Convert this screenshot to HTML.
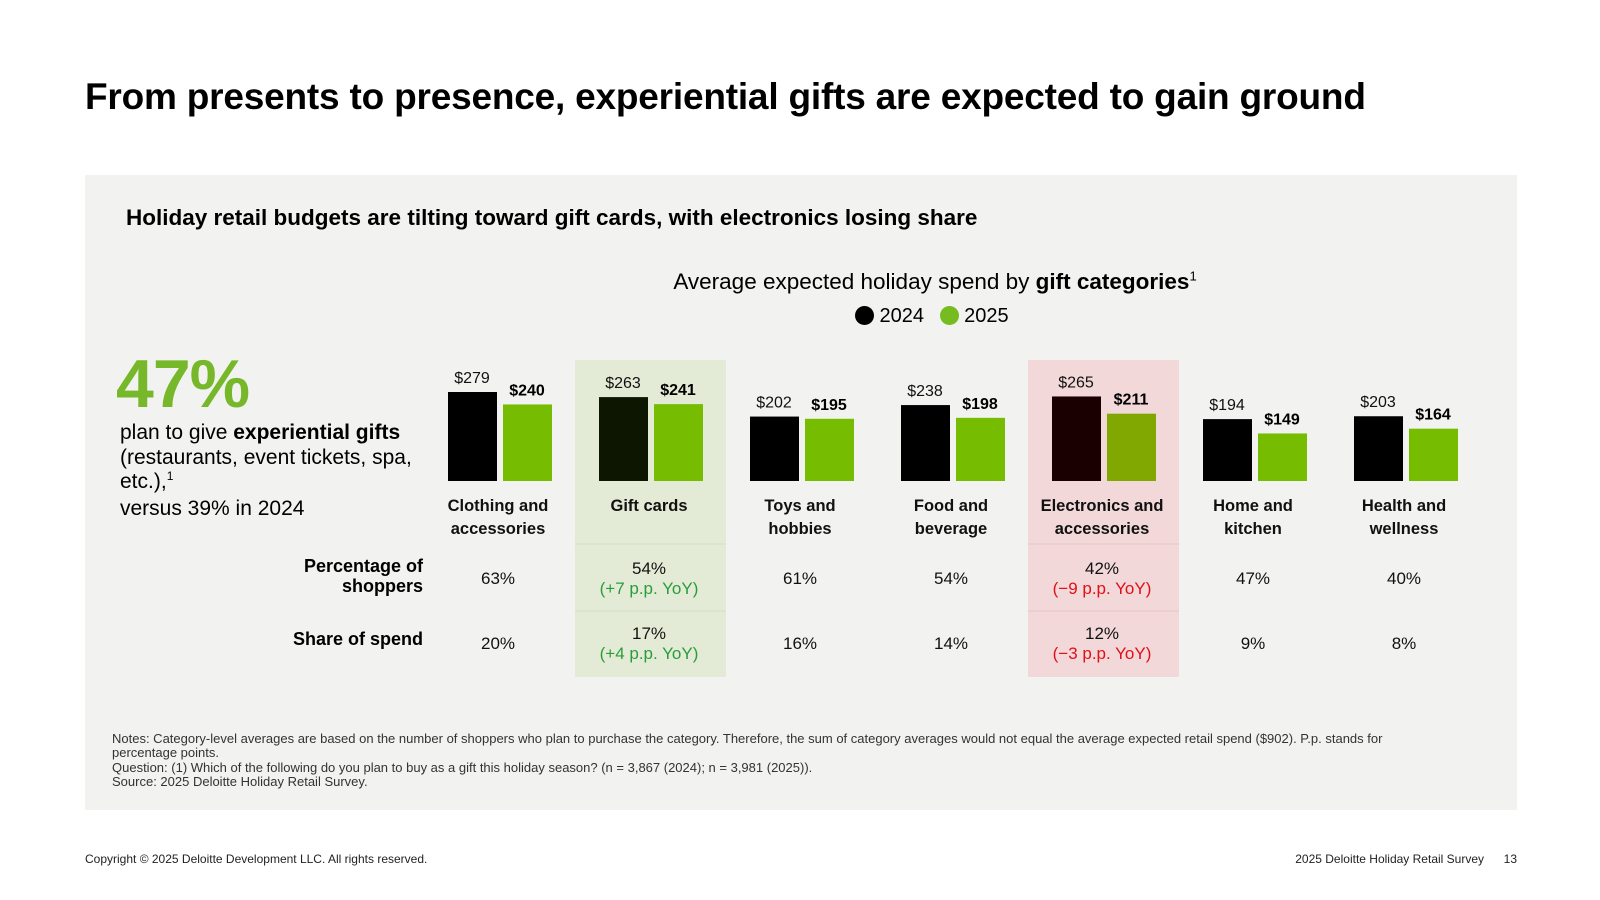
<!DOCTYPE html>
<html><head><meta charset="utf-8"><style>
body{margin:0;width:1600px;height:900px;background:#fff;font-family:"Liberation Sans",sans-serif;position:relative;overflow:hidden;color:#000}
.a{position:absolute;white-space:nowrap}
sup{line-height:0}
</style></head><body>
<div class="a" style="left:85px;top:76px;font-size:37px;font-weight:bold;letter-spacing:-0.2px">From presents to presence, experiential gifts are expected to gain ground</div>
<div class="a" style="left:85px;top:175px;width:1432px;height:635px;background:#f2f2f0"></div>
<div class="a" style="left:126px;top:205px;font-size:22.5px;font-weight:bold">Holiday retail budgets are tilting toward gift cards, with electronics losing share</div>
<div class="a" style="left:935px;top:269px;transform:translateX(-50%);font-size:22.5px">Average expected holiday spend by <b>gift categories</b><sup style="font-size:13px">1</sup></div>
<div class="a" style="left:855px;top:305px;font-size:20px">
<span><span style="display:inline-block;width:19px;height:19px;border-radius:50%;background:#000;vertical-align:-3px"></span> 2024</span>
<span style="margin-left:10px"><span style="display:inline-block;width:19px;height:19px;border-radius:50%;background:#76bc21;vertical-align:-3px"></span> 2025</span></div>
<div class="a" style="left:116px;top:345px;font-size:68px;font-weight:bold;color:#76b82a;letter-spacing:-1px">47%</div>
<div class="a" style="left:120px;top:421px;font-size:21px;line-height:24.5px;white-space:normal;width:310px">plan to give <b>experiential gifts</b> (restaurants, event tickets, spa, etc.),<sup style="font-size:12px">1</sup><br><span style="line-height:27px">versus 39% in 2024</span></div>
<div class="a" style="right:1177px;top:556px;font-size:18px;font-weight:bold;text-align:right;line-height:20px">Percentage of<br>shoppers</div>
<div class="a" style="right:1177px;top:629px;font-size:18px;font-weight:bold;text-align:right">Share of spend</div>
<svg class="a" id="chart" style="left:0;top:0" width="1600" height="900"></svg>
<div class="a" style="left:112px;top:732px;font-size:13px;line-height:14.3px;color:#333;white-space:normal;width:1330px">Notes: Category-level averages are based on the number of shoppers who plan to purchase the category. Therefore, the sum of category averages would not equal the average expected retail spend ($902). P.p. stands for percentage points.<br>Question: (1) Which of the following do you plan to buy as a gift this holiday season? (n = 3,867 (2024); n = 3,981 (2025)).<br>Source: 2025 Deloitte Holiday Retail Survey.</div>
<div class="a" style="left:85px;top:852px;font-size:12px;color:#222">Copyright © 2025 Deloitte Development LLC. All rights reserved.</div>
<div class="a" style="right:116px;top:852px;font-size:12px;color:#222">2025 Deloitte Holiday Retail Survey</div>
<div class="a" style="right:83px;top:852px;font-size:12px;color:#222">13</div>
<script>
const categories=[["Clothing and","accessories"],["Gift cards"],["Toys and","hobbies"],["Food and","beverage"],["Electronics and","accessories"],["Home and","kitchen"],["Health and","wellness"]];
const spend2024=[279,263,202,238,265,194,203];
const spend2025=[240,241,195,198,211,149,164];
const pctShoppers=["63%","54%","61%","54%","42%","47%","40%"];
const pctChange=["","(+7 p.p. YoY)","","","(\u22129 p.p. YoY)","",""];
const shareSpend=["20%","17%","16%","14%","12%","9%","8%"];
const shareChange=["","(+4 p.p. YoY)","","","(\u22123 p.p. YoY)","",""];
const highlight=["","up","","","down","",""];
const NS="http://www.w3.org/2000/svg",svg=document.getElementById('chart');
const colX=i=>420+151*i, base=481, y=v=>base-v*0.319;
function mk(t,a,txt){const e=document.createElementNS(NS,t);for(const k in a)e.setAttribute(k,a[k]);if(txt!=null)e.textContent=txt;svg.appendChild(e);return e;}
categories.forEach((c,i)=>{
 const L=colX(i),cx=L+78;
 if(highlight[i]){
  const bg=mk('rect',{x:L+4,y:360,width:151,height:317,fill:highlight[i]=='up'?'#e3ebd6':'#f2d8d8'});
  
  
  [544,611].forEach(yy=>{const l=mk('line',{x1:L+4,x2:L+155,y1:yy,y2:yy,stroke:highlight[i]=='up'?'#d4dcc6':'#e8c4c4'});
   
   });
 }
 const c1=highlight[i]=='up'?'#0d1600':highlight[i]=='down'?'#1a0000':'#000';
 const c2=highlight[i]=='down'?'#80a800':'#76bc00';
 const b1=mk('rect',{x:L+28,y:y(spend2024[i]),width:49,height:base-y(spend2024[i]),fill:c1});
 
 
 const b2=mk('rect',{x:L+83,y:y(spend2025[i]),width:49,height:base-y(spend2025[i]),fill:c2});
 
 
 const t1=mk('text',{x:L+52,y:y(spend2024[i])-9,'text-anchor':'middle','font-size':16,fill:'#111'},'$'+spend2024[i]);
 
 
 const t2=mk('text',{x:L+107,y:y(spend2025[i])-9,'text-anchor':'middle','font-size':16,'font-weight':'bold'},'$'+spend2025[i]);
 
 
 c.forEach((ln,j)=>{const t=mk('text',{x:cx,y:511+j*23,'text-anchor':'middle','font-size':16.5,'font-weight':'bold',fill:'#111'},ln);
  
  });
 const col=highlight[i]=='up'?'#2a9d3a':'#e0101a';
 function cell(v,ch,yc,nm){
  if(ch){const a=mk('text',{x:cx,y:yc-4,'text-anchor':'middle','font-size':17,fill:'#111'},v);
   
   
   const b=mk('text',{x:cx,y:yc+16,'text-anchor':'middle','font-size':17,fill:col},ch);
   
   }
  else{const a=mk('text',{x:cx,y:yc+6,'text-anchor':'middle','font-size':17,fill:'#111'},v);
   
   }
 }
 cell(pctShoppers[i],pctChange[i],578,'pct-shoppers-'+i);
 cell(shareSpend[i],shareChange[i],643,'share-spend-'+i);
});
</script>
</body></html>
